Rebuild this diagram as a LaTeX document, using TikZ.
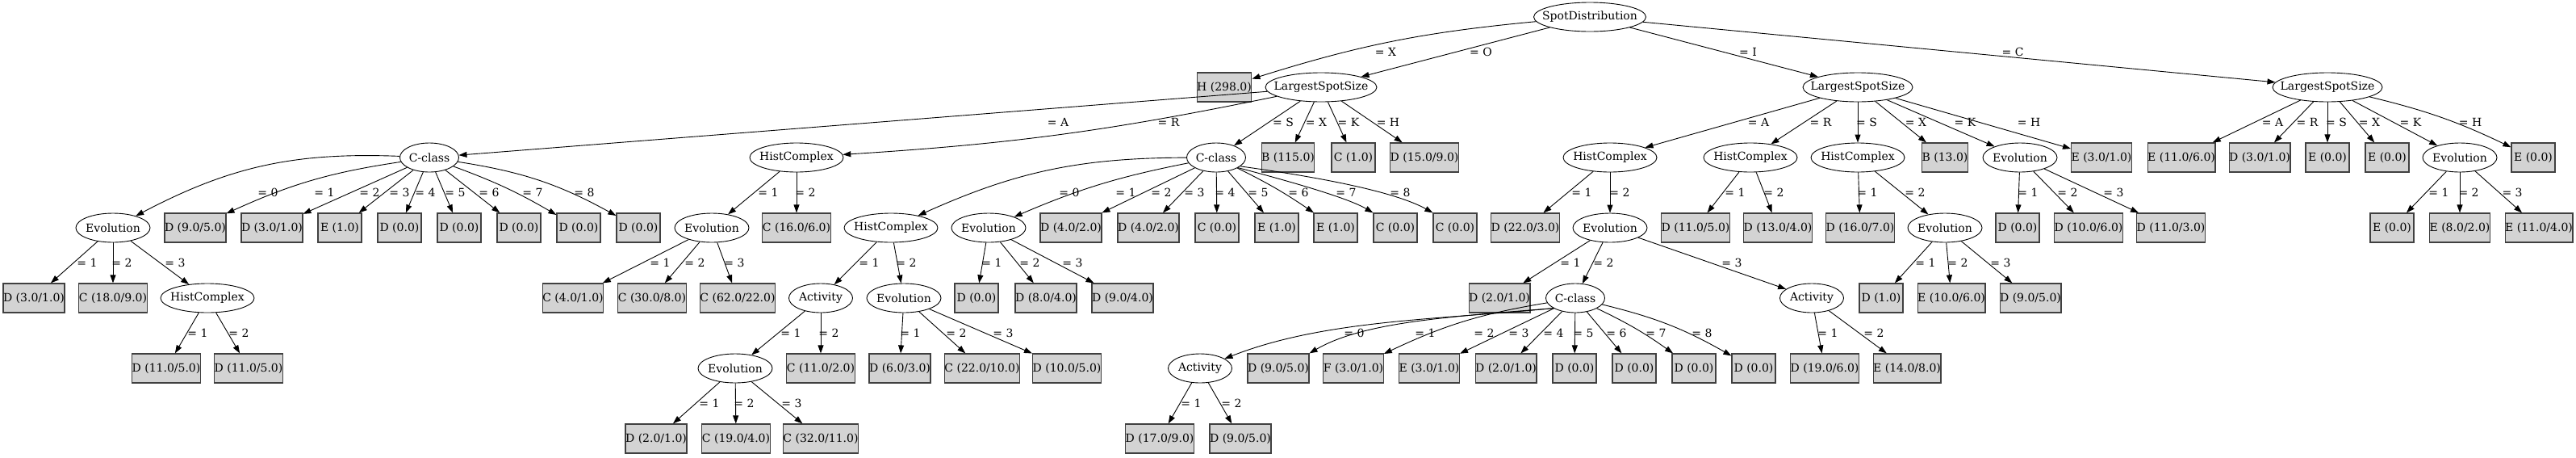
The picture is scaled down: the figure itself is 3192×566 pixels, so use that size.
\documentclass[tikz,border=0pt]{standalone}
\usepackage{fontspec}
\setmainfont{DejaVu Serif}
\newfontfamily\timesf{Liberation Serif}
\usetikzlibrary{arrows.meta,shapes.geometric}
\definecolor{leafgray}{HTML}{D3D3D3}
\newlength\lfw
\tikzset{
 every node/.style={font=\fontsize{14}{16}\selectfont},
 leafbox/.style={draw=black!75, line width=1.2pt, fill=leafgray, rectangle, minimum height=36pt, inner xsep=0pt, inner ysep=0pt},
 innerbox/.style={draw=black, line width=0.9pt, ellipse, minimum height=36pt, inner sep=0pt},
 edge/.style={draw=black, line width=0.9pt, -{Triangle[length=10pt,width=7pt]}},
 lbl/.style={inner sep=0pt},
}
\newcommand{\leafn}[3]{\settowidth{\lfw}{\fontsize{14}{16}\timesf #3}\addtolength{\lfw}{16pt}\ifdim\lfw<54pt\setlength{\lfw}{54pt}\fi\node[leafbox,minimum width=\lfw] (#1) at (#2) {#3};}
\newcommand{\innode}[4]{\node[innerbox,minimum width=#3pt] (#1) at (#2) {\makebox[0pt]{#4}};}
\newcommand{\elab}[3]{\node[lbl] (#1) at (#2) {= #3};}
\newcommand{\edg}[3][]{\draw[edge,#1] (#2) to (#3);}
\begin{document}
\begin{tikzpicture}[x=1pt,y=-1pt]
\useasboundingbox (0,0) rectangle (3192,566);
% level 0
\innode{sd}{1970,21}{139}{SpotDistribution}
% level 1
\leafn{hA}{1517,108}{H (298.0)}
\innode{lo}{1637,108}{138}{LargestSpotSize}
\innode{li}{2302,108}{136}{LargestSpotSize}
\innode{lc}{2884,108}{136}{LargestSpotSize}
% level 2
\innode{ca}{532,195}{73}{C-class}
\innode{ha}{987,195}{116}{HistComplex}
\innode{cb}{1507,195}{73}{C-class}
\leafn{b1}{1596,195}{B (115.0)}
\leafn{c1}{1677,195}{C (1.0)}
\leafn{d1}{1765,195}{D (15.0/9.0)}
\innode{hb}{1995,195}{116}{HistComplex}
\innode{hc}{2169,195}{116}{HistComplex}
\innode{hd}{2302,195}{116}{HistComplex}
\leafn{b2}{2410,195}{B (13.0)}
\innode{ea}{2503,195}{92}{Evolution}
\leafn{e1}{2604,195}{E (3.0/1.0)}
\leafn{e2}{2703,195}{E (11.0/6.0)}
\leafn{d2}{2800,195}{D (3.0/1.0)}
\leafn{e3}{2884,195}{E (0.0)}
\leafn{e4}{2958,195}{E (0.0)}
\innode{eb}{3048,195}{92}{Evolution}
\leafn{e5}{3139,195}{E (0.0)}
% level 3
\innode{v1}{140,282}{92}{Evolution}
\leafn{p1}{242,282}{D (9.0/5.0)}
\leafn{p2}{337,282}{D (3.0/1.0)}
\leafn{p3}{421,282}{E (1.0)}
\leafn{p4}{495,282}{D (0.0)}
\leafn{p5}{569,282}{D (0.0)}
\leafn{p6}{643,282}{D (0.0)}
\leafn{p7}{717,282}{D (0.0)}
\leafn{p8}{791,282}{D (0.0)}
\innode{v2}{882,282}{92}{Evolution}
\leafn{p9}{987,282}{C (16.0/6.0)}
\innode{hx}{1104,282}{116}{HistComplex}
\innode{v3}{1225,282}{92}{Evolution}
\leafn{q1}{1327,282}{D (4.0/2.0)}
\leafn{q2}{1423,282}{D (4.0/2.0)}
\leafn{q3}{1508,282}{C (0.0)}
\leafn{q4}{1582,282}{E (1.0)}
\leafn{q5}{1655,282}{E (1.0)}
\leafn{q6}{1729,282}{C (0.0)}
\leafn{q7}{1803,282}{C (0.0)}
\leafn{q8}{1890,282}{D (22.0/3.0)}
\innode{v4}{1995,282}{92}{Evolution}
\leafn{q9}{2101,282}{D (11.0/5.0)}
\leafn{r1}{2203,282}{D (13.0/4.0)}
\leafn{r2}{2305,282}{D (16.0/7.0)}
\innode{v5}{2410,282}{92}{Evolution}
\leafn{r3}{2500,282}{D (0.0)}
\leafn{r4}{2588,282}{D (10.0/6.0)}
\leafn{r5}{2690,282}{D (11.0/3.0)}
\leafn{r6}{2964,282}{E (0.0)}
\leafn{r7}{3048,282}{E (8.0/2.0)}
\leafn{r8}{3146,282}{E (11.0/4.0)}
% level 4
\leafn{s1}{42,369}{D (3.0/1.0)}
\leafn{s2}{140,369}{C (18.0/9.0)}
\innode{hy}{257,369}{116}{HistComplex}
\leafn{s3}{710,369}{C (4.0/1.0)}
\leafn{s4}{808,369}{C (30.0/8.0)}
\leafn{s5}{914,369}{C (62.0/22.0)}
\innode{a1}{1017,369}{79}{Activity}
\innode{v6}{1120,369}{92}{Evolution}
\leafn{s6}{1210,369}{D (0.0)}
\leafn{s7}{1296,369}{D (8.0/4.0)}
\leafn{s8}{1391,369}{D (9.0/4.0)}
\leafn{s9}{1858,369}{D (2.0/1.0)}
\innode{cc}{1952,369}{73}{C-class}
\innode{a2}{2245,369}{79}{Activity}
\leafn{t1}{2331,369}{D (1.0)}
\leafn{t2}{2418,369}{E (10.0/6.0)}
\leafn{t3}{2516,369}{D (9.0/5.0)}
% level 5
\leafn{u1}{206,456}{D (11.0/5.0)}
\leafn{u2}{308,456}{D (11.0/5.0)}
\innode{v7}{911,456}{92}{Evolution}
\leafn{u3}{1017,456}{C (11.0/2.0)}
\leafn{u4}{1115,456}{D (6.0/3.0)}
\leafn{u5}{1217,456}{C (22.0/10.0)}
\leafn{u6}{1322,456}{D (10.0/5.0)}
\innode{a3}{1487,456}{79}{Activity}
\leafn{u7}{1584,456}{D (9.0/5.0)}
\leafn{u8}{1677,456}{F (3.0/1.0)}
\leafn{u9}{1771,456}{E (3.0/1.0)}
\leafn{w1}{1866,456}{D (2.0/1.0)}
\leafn{w2}{1951,456}{D (0.0)}
\leafn{w3}{2025,456}{D (0.0)}
\leafn{w4}{2099,456}{D (0.0)}
\leafn{w5}{2173,456}{D (0.0)}
\leafn{w6}{2261,456}{D (19.0/6.0)}
\leafn{w7}{2363,456}{E (14.0/8.0)}
% level 6
\leafn{z1}{813,543}{D (2.0/1.0)}
\leafn{z2}{912,543}{C (19.0/4.0)}
\leafn{z3}{1017,543}{C (32.0/11.0)}
\leafn{z4}{1437,543}{D (17.0/9.0)}
\leafn{z5}{1537,543}{D (9.0/5.0)}
% edges
\edg[bend right=6]{sd}{hA}
\edg{sd}{lo}
\edg{sd}{li}
\edg{sd}{lc}
\edg{lo}{ca}
\edg[bend left=4]{lo}{ha}
\edg{lo}{cb}
\edg{lo}{b1}
\edg{lo}{c1}
\edg{lo}{d1}
\edg{li}{hb}
\edg{li}{hc}
\edg{li}{hd}
\edg{li}{b2}
\edg{li}{ea}
\edg{li}{e1}
\edg{lc}{e2}
\edg{lc}{d2}
\edg{lc}{e3}
\edg{lc}{e4}
\edg{lc}{eb}
\edg[bend left=6]{lc}{e5}
\edg[bend right=15]{ca}{v1}
\edg[bend right=8]{ca}{p1}
\edg{ca}{p2}
\edg{ca}{p3}
\edg{ca}{p4}
\edg{ca}{p5}
\edg{ca}{p6}
\edg[bend left=5]{ca}{p7}
\edg[bend left=10]{ca}{p8}
\edg{ha}{v2}
\edg{ha}{p9}
\edg[bend right=12]{cb}{hx}
\edg[bend right=6]{cb}{v3}
\edg{cb}{q1}
\edg{cb}{q2}
\edg{cb}{q3}
\edg{cb}{q4}
\edg[bend left=4]{cb}{q5}
\draw[edge] (cb.-25) .. controls (1600,225) and (1670,245) .. (q6.north west);
\draw[edge] (cb.-20) .. controls (1640,220) and (1730,238) .. (q7.north west);
\edg{hb}{q8}
\edg{hb}{v4}
\edg{hc}{q9}
\edg{hc}{r1}
\edg{hd}{r2}
\edg{hd}{v5}
\edg{ea}{r3}
\edg{ea}{r4}
\edg{ea}{r5}
\edg{eb}{r6}
\edg{eb}{r7}
\edg{eb}{r8}
\edg{v1}{s1}
\edg{v1}{s2}
\edg{v1}{hy}
\edg{v2}{s3}
\edg{v2}{s4}
\edg{v2}{s5}
\edg{hx}{a1}
\edg{hx}{v6}
\edg{v3}{s6}
\edg{v3}{s7}
\edg{v3}{s8}
\edg{v4}{s9}
\edg{v4}{cc}
\edg{v4}{a2}
\edg{v5}{t1}
\edg{v5}{t2}
\edg{v5}{t3}
\edg{hy}{u1}
\edg{hy}{u2}
\edg{a1}{v7}
\edg{a1}{u3}
\edg{v6}{u4}
\edg{v6}{u5}
\edg{v6}{u6}
\draw[edge] (cc.205) .. controls (1780,396) and (1640,396) .. (a3);
\draw[edge] (cc.205) .. controls (1800,392) and (1690,398) .. (u7.north east);
\edg[bend right=8]{cc}{u8}
\edg{cc}{u9}
\edg{cc}{w1}
\edg{cc}{w2}
\edg{cc}{w3}
\edg[bend left=5]{cc}{w4}
\edg[bend left=8]{cc}{w5}
\edg{a2}{w6}
\edg{a2}{w7}
\edg{v7}{z1}
\edg{v7}{z2}
\edg{v7}{z3}
\edg{a3}{z4}
\edg{a3}{z5}
% labels
\elab{k1}{1717,64}{X}
\elab{k2}{1835,64}{O}
\elab{k3}{2166,64}{I}
\elab{k4}{2494,64}{C}
\elab{m1}{1311,151}{A}
\elab{m2}{1448,151}{R}
\elab{m3}{1590,151}{S}
\elab{m4}{1631,151}{X}
\elab{m5}{1671,151}{K}
\elab{m6}{1720,151}{H}
\elab{m7}{2179,151}{A}
\elab{m8}{2256,151}{R}
\elab{m9}{2313,151}{S}
\elab{m10}{2374,151}{X}
\elab{m11}{2435,151}{K}
\elab{m12}{2514,151}{H}
\elab{m13}{2816,151}{A}
\elab{m14}{2859,151}{R}
\elab{m15}{2895,151}{S}
\elab{m16}{2936,151}{X}
\elab{m17}{2987,151}{K}
\elab{m18}{3061,151}{H}
\elab{n1}{332,238}{0}
\elab{n2}{402,238}{1}
\elab{n3}{458,238}{2}
\elab{n4}{495,238}{3}
\elab{n5}{527,238}{4}
\elab{n6}{564,238}{5}
\elab{n7}{606,238}{6}
\elab{n8}{660,238}{7}
\elab{n9}{724,238}{8}
\elab{n10}{952,238}{1}
\elab{n11}{998,238}{2}
\elab{n12}{1325,238}{0}
\elab{n13}{1395,238}{1}
\elab{n14}{1439,238}{2}
\elab{n15}{1480,238}{3}
\elab{n16}{1518,238}{4}
\elab{n17}{1559,238}{5}
\elab{n18}{1609,238}{6}
\elab{n19}{1668,238}{7}
\elab{n20}{1735,238}{8}
\elab{n21}{1960,238}{1}
\elab{n22}{2007,238}{2}
\elab{n23}{2150,238}{1}
\elab{n24}{2198,238}{2}
\elab{n25}{2314,238}{1}
\elab{n26}{2373,238}{2}
\elab{n27}{2513,238}{1}
\elab{n28}{2562,238}{2}
\elab{n29}{2619,238}{3}
\elab{n30}{3022,238}{1}
\elab{n31}{3059,238}{2}
\elab{n32}{3113,238}{3}
\elab{o1}{108,325}{1}
\elab{o2}{151,325}{2}
\elab{o3}{217,325}{3}
\elab{o4}{818,325}{1}
\elab{o5}{861,325}{2}
\elab{o6}{910,325}{3}
\elab{o7}{1077,325}{1}
\elab{o8}{1123,325}{2}
\elab{o9}{1229,325}{1}
\elab{o10}{1276,325}{2}
\elab{o11}{1329,325}{3}
\elab{o12}{1946,325}{1}
\elab{o13}{1987,325}{2}
\elab{o14}{2146,325}{3}
\elab{o15}{2386,325}{1}
\elab{o16}{2426,325}{2}
\elab{o17}{2479,325}{3}
\elab{g1}{245,412}{1}
\elab{g2}{296,412}{2}
\elab{g3}{980,412}{1}
\elab{g4}{1027,412}{2}
\elab{g5}{1128,412}{1}
\elab{g6}{1185,412}{2}
\elab{g7}{1243,412}{3}
\elab{g8}{1678,412}{0}
\elab{g9}{1766,412}{1}
\elab{g10}{1839,412}{2}
\elab{g11}{1882,412}{3}
\elab{g12}{1925,412}{4}
\elab{g13}{1962,412}{5}
\elab{g14}{2003,412}{6}
\elab{g15}{2052,412}{7}
\elab{g16}{2109,412}{8}
\elab{g17}{2265,412}{1}
\elab{g18}{2322,412}{2}
\elab{j1}{879,499}{1}
\elab{j2}{922,499}{2}
\elab{j3}{981,499}{3}
\elab{j4}{1476,499}{1}
\elab{j5}{1526,499}{2}
\end{tikzpicture}
\end{document}
